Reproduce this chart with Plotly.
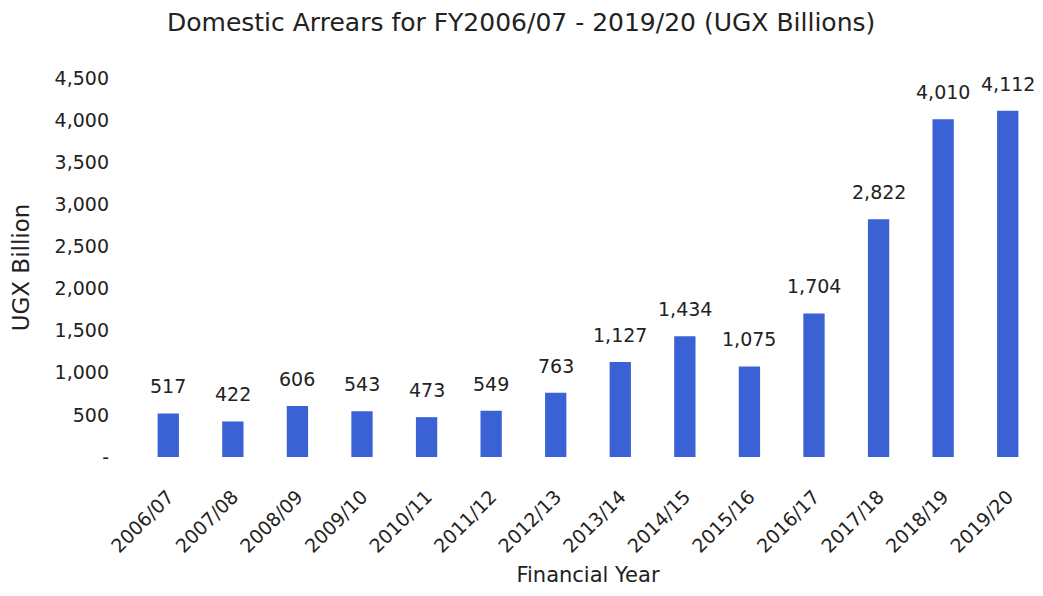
import plotly.graph_objects as go

categories = ["2006/07", "2007/08", "2008/09", "2009/10", "2010/11", "2011/12", "2012/13",
              "2013/14", "2014/15", "2015/16", "2016/17", "2017/18", "2018/19", "2019/20"]
arrears = [517, 422, 606, 543, 473, 549, 763, 1127, 1434, 1075, 1704, 2822, 4010, 4112]
ytick_vals = [0, 500, 1000, 1500, 2000, 2500, 3000, 3500, 4000, 4500]
ytick_text = ["-", "500", "1,000", "1,500", "2,000", "2,500", "3,000", "3,500", "4,000", "4,500"]

FONT = "DejaVu Sans"
TXT = "#222222"
fig = go.Figure(go.Bar(
    x=categories, y=arrears,
    marker=dict(color="#3A62D4", line=dict(width=0)),
))
for c, v in zip(categories, arrears):
    fig.add_annotation(x=c, y=v, text=f"{v:,}", showarrow=False, yanchor="bottom",
                       yshift=14, font=dict(family=FONT, size=19, color=TXT))
fig.update_layout(
    width=1043, height=596,
    paper_bgcolor="white", plot_bgcolor="white",
    margin=dict(l=128, r=11, t=70, b=147, autoexpand=False),
    bargap=0.67,
    showlegend=False,
    title=dict(text="Domestic Arrears for FY2006/07 - 2019/20 (UGX Billions)",
               x=0.492, xref="container", xanchor="center", y=0.9765, yanchor="middle",
               font=dict(family=FONT, size=25, color=TXT)),
    font=dict(family=FONT, color=TXT),
)
fig.update_xaxes(tickangle=-45, tickfont=dict(size=19, color=TXT), showline=False,
                 ticklabelstandoff=24, automargin=False,
                 title=dict(text="Financial Year", font=dict(size=21), standoff=11))
fig.update_yaxes(range=[0, 4500], tickvals=ytick_vals, ticktext=ytick_text,
                 tickfont=dict(size=19, color=TXT), showgrid=False, zeroline=False,
                 ticks="", ticklen=0, ticklabelstandoff=26, automargin=False,
                 title=dict(text="UGX Billion", font=dict(size=23), standoff=18))
fig.write_html("out.html")
